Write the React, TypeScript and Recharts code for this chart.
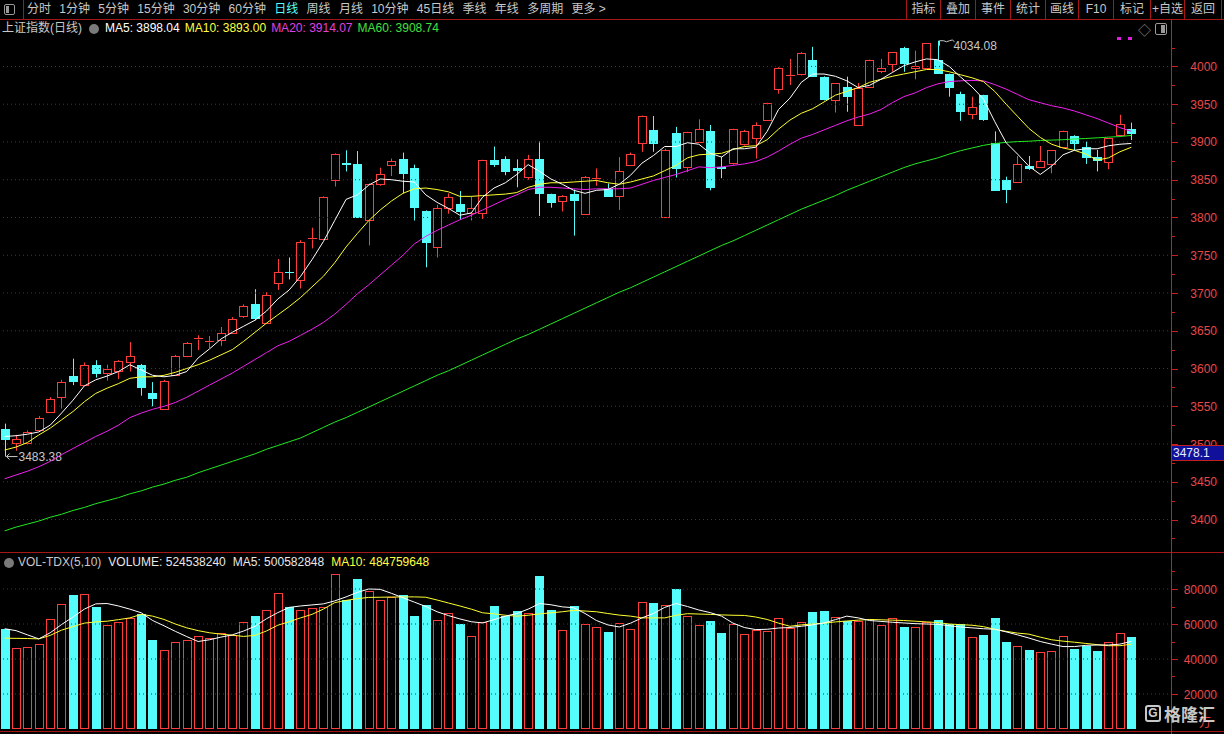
import React from "react";
import { ComposedChart, Bar, Line, XAxis, YAxis, ReferenceLine } from "recharts";

// 上证指数 日线, last 100 sessions (prices in points, volume in 万股)
const open = [
  3520, 3502, 3501, 3519, 3543, 3562, 3590, 3578, 3604, 3594,
  3597, 3608, 3605, 3568, 3547, 3591, 3617, 3638.6, 3635, 3638,
  3647, 3669, 3686, 3660, 3713, 3728.2, 3717, 3771, 3772, 3850,
  3871.7, 3871, 3797, 3844, 3869.5, 3877, 3865, 3809, 3761, 3812,
  3818, 3805.5, 3805.5, 3876, 3877, 3866, 3853, 3877, 3831, 3822,
  3831, 3805, 3851.4, 3838, 3828, 3869.5, 3898, 3916, 3800, 3911.5,
  3867, 3900, 3914, 3866.4, 3871.7, 3897, 3905, 3929, 3970, 3987.4,
  3990, 4008.6, 3986, 3955, 3973, 3923, 3973, 3994.5, 4003, 4024.5,
  3997.5, 3997.5, 4008.6, 3990, 3963.5, 3937, 3962, 3898, 3849.6, 3847.4,
  3868.6, 3867.3, 3870.8, 3893, 3908.4, 3894, 3880.5, 3873, 3909, 3917,
];
const high = [
  3527, 3512, 3518, 3537, 3562, 3585, 3613, 3608, 3611, 3605,
  3611, 3635, 3606, 3582, 3585, 3618, 3635, 3644, 3643, 3655,
  3668, 3685, 3705, 3701, 3745, 3747, 3770, 3786.5, 3828, 3885,
  3889, 3888, 3845, 3866, 3878, 3886, 3870, 3809.5, 3817, 3832,
  3835, 3828, 3876.5, 3894, 3881, 3877, 3883, 3901, 3831.5, 3829.5,
  3837, 3855, 3865, 3845, 3880, 3886, 3935, 3934.4, 3891, 3920,
  3913.5, 3930, 3922.5, 3880.5, 3917.5, 3916, 3926, 3952, 3999, 4010,
  4019, 4026, 3987, 3978, 3986.5, 3978, 4009, 4010, 4019, 4026,
  4021, 4031, 4034.08, 3990.5, 3966.6, 3960, 3962.5, 3914, 3854, 3881.4,
  3881.4, 3894.7, 3889.5, 3915, 3909, 3900.4, 3889.4, 3905, 3936, 3925.6,
];
const low = [
  3483.38, 3491, 3499, 3518, 3541, 3547, 3578, 3577, 3588, 3584,
  3586, 3596, 3564, 3550, 3546, 3590, 3615, 3624.5, 3627, 3630,
  3646, 3667, 3664, 3659, 3704, 3718, 3706, 3759, 3771, 3841,
  3861, 3800, 3763, 3842, 3855, 3832, 3796, 3734, 3747, 3805,
  3797, 3796, 3798, 3867, 3856, 3840, 3850, 3802, 3813, 3808,
  3776, 3804.5, 3842, 3828.5, 3810, 3869, 3887, 3887, 3799.5, 3853,
  3860, 3899.5, 3836, 3852, 3870, 3895, 3878, 3928, 3964, 3975.5,
  3988, 3987, 3955, 3939, 3940, 3922.5, 3972, 3991, 3993, 3993,
  3983, 3997, 3991, 3960, 3928, 3930, 3928, 3835.5, 3819, 3846,
  3863, 3866.4, 3858.5, 3892, 3889.4, 3871, 3861, 3864, 3908.5, 3902.6,
];
const close = [
  3506, 3507, 3516, 3535, 3560, 3582, 3584, 3605, 3594, 3599,
  3610, 3616, 3575, 3561, 3583, 3617, 3634, 3640.8, 3636.4, 3647,
  3666, 3683, 3667, 3697, 3728, 3727.3, 3767, 3772.4, 3827, 3884,
  3870.4, 3801, 3844, 3858, 3875, 3859, 3814, 3767, 3813, 3827,
  3809, 3812, 3876, 3871, 3862, 3863, 3877, 3833, 3821, 3829,
  3823, 3854, 3852.7, 3829, 3862, 3884, 3934.4, 3898, 3890, 3866,
  3913, 3917, 3841, 3865.1, 3917, 3914, 3922.5, 3951, 3997.5, 3988.7,
  4017.4, 3988, 3957, 3977.7, 3961, 3971, 4008.6, 3997.5, 4018.7, 4004,
  4000.6, 4030.6, 3992, 3973, 3941.5, 3946.8, 3931, 3836.4, 3837.3, 3870.8,
  3866, 3875.2, 3889.4, 3914.5, 3899, 3880, 3876, 3904.8, 3924, 3911.4,
];
const ma5 = [
  3510, 3511, 3513, 3516, 3525, 3541, 3558, 3577, 3585, 3590,
  3596, 3605, 3598, 3591, 3589, 3591, 3596, 3614, 3626, 3639,
  3648, 3656, 3664, 3676, 3692, 3704, 3722, 3744, 3768, 3796,
  3824, 3830, 3843, 3851, 3850, 3848, 3847, 3830, 3820, 3812,
  3803, 3806, 3827, 3839, 3846, 3857, 3870, 3861, 3851, 3844,
  3836, 3832, 3836, 3837, 3844, 3856, 3872, 3882, 3894, 3894,
  3899, 3897, 3885, 3880, 3891, 3891, 3893, 3914, 3943, 3958,
  3979, 3990, 3990, 3987, 3981, 3972, 3975, 3983, 3992, 4001,
  4006, 4010, 4009, 4000, 3986, 3973, 3957, 3927, 3899, 3884,
  3868, 3857, 3868, 3883, 3889, 3891, 3891, 3895, 3897, 3898.04,
];
const ma10 = [
  3492, 3496, 3502, 3512, 3521, 3532, 3543, 3556, 3567, 3574,
  3580, 3587, 3589, 3589, 3591, 3595, 3600, 3605, 3611, 3618,
  3625, 3636, 3648, 3660, 3671, 3682, 3694, 3708, 3722, 3740,
  3761, 3779, 3796, 3810, 3822, 3832, 3838, 3839, 3837, 3834,
  3828, 3828, 3829, 3830, 3831, 3833, 3840, 3844, 3846, 3846,
  3847, 3848, 3849, 3846, 3844, 3847, 3851, 3855, 3862, 3869,
  3879, 3883, 3884, 3885, 3890, 3894, 3895, 3903, 3917, 3929,
  3938, 3944, 3953, 3962, 3967, 3972, 3979, 3983, 3987, 3990,
  3993, 3996, 3996, 3993, 3989, 3985, 3980, 3967, 3950, 3934,
  3918, 3906, 3897, 3892, 3889, 3884, 3876, 3879, 3887, 3893.0,
];
const ma20 = [
  3454, 3459, 3464, 3470, 3477, 3486, 3494, 3502, 3510, 3517,
  3525, 3535, 3541, 3546, 3550, 3555, 3562, 3570, 3578, 3586,
  3594, 3603, 3612, 3621, 3630, 3636, 3644, 3652, 3661, 3672,
  3685, 3699, 3711, 3724, 3737, 3750, 3765, 3775, 3783, 3790,
  3797, 3803, 3810, 3817, 3824, 3830, 3837, 3840, 3840, 3839,
  3838, 3837, 3838, 3838, 3838, 3839, 3844, 3849, 3853, 3857,
  3862, 3867, 3866, 3867, 3869, 3871, 3874, 3880, 3888, 3897,
  3905, 3910, 3916, 3922, 3928, 3933, 3937, 3943, 3952, 3960,
  3965, 3972, 3977, 3980, 3981, 3981.5, 3981, 3976, 3970, 3963,
  3956, 3952, 3948, 3945, 3941, 3936, 3931, 3925, 3919, 3914.07,
];
const ma60 = [
  3385, 3390, 3394, 3398, 3403, 3407, 3412, 3416, 3421, 3425,
  3429, 3434, 3438, 3443, 3447, 3452, 3456, 3462, 3467, 3472,
  3477, 3482, 3487, 3493, 3498, 3503, 3508, 3515, 3522, 3529,
  3535, 3542, 3549, 3556, 3563, 3570, 3577, 3584, 3591, 3597,
  3604, 3611, 3618, 3625, 3632, 3639, 3645, 3652, 3659, 3666,
  3673, 3680, 3687, 3694, 3701, 3707, 3714, 3721, 3728, 3735,
  3742, 3749, 3756, 3763, 3769, 3776, 3783, 3790, 3797, 3804,
  3811, 3817, 3823, 3829, 3836, 3842, 3848, 3854, 3860, 3866,
  3871, 3875, 3879, 3884, 3888.5, 3892, 3895.5, 3898, 3899.5, 3900.5,
  3901, 3902, 3902.5, 3903, 3904, 3904.6, 3905.5, 3906.4, 3907.2, 3908.74,
];
const volume = [
  57300, 46300, 46900, 48600, 63100, 71500, 76700, 77300, 69700, 59300,
  61000, 63700, 65700, 50600, 45100, 50000, 50900, 53300, 52100, 55000,
  53800, 61000, 64500, 67800, 77700, 69700, 67800, 69200, 69700, 88700,
  73600, 85800, 78600, 73600, 75200, 76700, 64500, 70900, 62400, 66200,
  59900, 53100, 61200, 70300, 64500, 67400, 66200, 87700, 68000, 56800,
  70300, 59900, 58500, 55200, 60400, 57000, 72400, 72100, 70700, 80200,
  64300, 59300, 61600, 54600, 60000, 54000, 56400, 56200, 63700, 57900,
  61000, 66800, 67400, 63900, 61600, 61600, 63000, 59300, 63300, 58100,
  58500, 61200, 62200, 59900, 59900, 52700, 53500, 63300, 50000, 47500,
  45300, 44000, 44700, 53300, 45500, 47600, 44400, 49800, 54600, 52454,
];
const volMa5 = [
  57300, 56200, 53800, 51500, 55000, 59700, 64000, 68500, 71500, 71700,
  70300, 68500, 66400, 62000, 59000, 55800, 52800, 50000, 51000, 52500,
  53800, 56000, 58700, 63000, 66500, 69500, 70300, 70900, 71500, 73200,
  75500, 78100, 80000, 79800, 77500, 75000, 72500, 70000, 67000, 64800,
  62900, 61300, 60600, 62500, 64500, 66000, 68500, 71700, 71000, 69800,
  69300, 66000, 62000, 59500, 58300, 60500, 63500, 66000, 69500, 71700,
  70000, 68000, 66500, 64500, 60500, 58000, 56800, 57000, 57700, 58000,
  58700, 59500, 60600, 62500, 64500, 63500, 62000, 61500, 61000, 60600,
  60200, 60000, 59800, 59000, 58300, 57800, 57300, 57000, 55500, 53800,
  52000, 50000, 48500, 47100, 47100, 47800, 48000, 48000, 48500, 50058,
];
const volMa10 = [
  51900, 51800, 51700, 51500, 53500, 56500, 58500, 60500, 61200, 61600,
  62500, 63500, 65500, 64500, 62600, 60000, 57800, 56200, 55000, 54200,
  53600, 52900, 53500, 56000, 59300, 61300, 63500, 65500, 68500, 72200,
  73500, 74500, 75200, 75300, 75400, 75500, 75500, 75300, 73700, 72000,
  70300, 68500, 66400, 65800, 65000, 64500, 65000, 65800, 66400, 67000,
  67800, 67400, 67000, 66000, 65100, 64500, 63500, 63500, 63500, 65000,
  65900, 65700, 65500, 65200, 65000, 64900, 64000, 62600, 60500, 58700,
  59500, 60000, 60500, 61200, 61700, 62200, 62600, 62400, 62200, 62000,
  61600, 61200, 60800, 60000, 59600, 59300, 58500, 57000, 55800, 54800,
  54200, 52500, 51000, 50200, 49600, 48900, 48200, 47600, 47600, 48476,
];

const priceTicks = [
  3375, 3400, 3425, 3450, 3475, 3500, 3525, 3550, 3575, 3600, 3625, 3650, 3675, 3700,
  3725, 3750, 3775, 3800, 3825, 3850, 3875, 3900, 3925, 3950, 3975, 4000, 4025,
];
const priceGrid = [3400, 3450, 3500, 3550, 3600, 3650, 3700, 3750, 3800, 3850, 3900, 3950, 4000];
const volTicks = [10000, 20000, 30000, 40000, 50000, 60000, 70000, 80000, 90000];
const volGrid = [20000, 40000, 60000, 80000];

const periods = ["分时", "1分钟", "5分钟", "15分钟", "30分钟", "60分钟", "日线", "周线", "月线", "10分钟", "45日线", "季线", "年线", "多周期", "更多 >"];
const tools = ["指标", "叠加", "事件", "统计", "画线", "F10", "标记", "+自选", "返回"];
const toolEdges = [906, 940, 975, 1010, 1045, 1078, 1113, 1150, 1184, 1221];

const FONT = '"Liberation Sans", Arial, "Noto Sans CJK SC", sans-serif';
const UP = "#ff3c3c";
const DOWN = "#54fcfc";
const FRAME = "#a51616";
const GRID = "#8c1818";
const AXIS = "#c42020";
const LABEL = "#e84848";
const TEXT = "#c8c8c8";

const Candle = (props: any) => {
  const { x, y, width, height, payload } = props;
  if (!payload || !isFinite(y) || !isFinite(height)) return null;
  const { o, h, l, c } = payload;
  const py = (v: number) => y + ((h - v) / (h - l)) * height;
  const cx = Math.round(x + width / 2) + 0.5;
  const yH = py(h);
  const yL = py(l);
  const t = Math.round(py(Math.max(o, c))) + 0.5;
  const b = Math.round(py(Math.min(o, c))) + 0.5;
  const rising = c >= o;
  let body;
  if (rising) {
    body = (
      <g>
        <line x1={cx} x2={cx} y1={yH} y2={t} stroke={UP} />
        <line x1={cx} x2={cx} y1={b} y2={yL} stroke={UP} />
        {b - t < 1.5 ? (
          <line x1={cx - 4.5} x2={cx + 4.5} y1={t} y2={t} stroke={UP} />
        ) : (
          <rect x={cx - 4} y={t} width={8} height={b - t} fill="#000" stroke={UP} />
        )}
      </g>
    );
  } else {
    body = (
      <g>
        <line x1={cx} x2={cx} y1={yH} y2={yL} stroke={DOWN} />
        <rect x={cx - 4.5} y={t - 0.5} width={9} height={Math.max(b - t + 1, 1)} fill={DOWN} />
      </g>
    );
  }
  return (
    <g>
      {body}
      {payload.trough && (
        <g>
          <path d={`M${cx + 1},${yL} l11,0 M${cx + 1},${yL} l3,-3 M${cx + 1},${yL} l3,3`} stroke={TEXT} fill="none" />
          <text x={cx + 13} y={yL + 4.5} fill={TEXT} fontSize={12} fontFamily={FONT}>{l.toFixed(2)}</text>
        </g>
      )}
      {payload.peak && (
        <g>
          <path d={`M${cx + 1},${yH} l0,5 M${cx + 1},${yH} l4,0 q3,2 6,0 t5,1`} stroke={TEXT} fill="none" />
          <text x={cx + 15} y={yH + 9} fill={TEXT} fontSize={12} fontFamily={FONT}>{h.toFixed(2)}</text>
        </g>
      )}
    </g>
  );
};

const VolBar = (props: any) => {
  const { x, y, width, height, payload } = props;
  if (!payload || !isFinite(y)) return null;
  const cx = Math.round(x + width / 2) + 0.5;
  const top = Math.round(y) + 0.5;
  const bot = Math.round(y + height) - 0.5;
  if (payload.c >= payload.o) {
    return <rect x={cx - 4} y={top} width={8} height={bot - top} fill="#000" stroke={UP} />;
  }
  return <rect x={cx - 4.5} y={top - 0.5} width={9} height={bot - top + 1} fill={DOWN} />;
};

const AxisTick = (props: any) => {
  const { x, y, payload, step } = props;
  const v = payload.value;
  const major = v % step === 0;
  const yy = Math.round(y) + 0.5;
  return (
    <g>
      <line x1={x} x2={x + (major ? 6 : 3)} y1={yy} y2={yy} stroke={AXIS} />
      {major && (
        <text x={x + 45} y={y + 4.5} textAnchor="end" fill={LABEL} fontSize={12} fontFamily={FONT}>
          {v}
        </text>
      )}
    </g>
  );
};

const abs = (left: number, top: number, extra: React.CSSProperties = {}): React.CSSProperties => ({
  position: "absolute",
  left,
  top,
  ...extra,
});

export default function App() {
  const hiIdx = high.indexOf(Math.max(...high));
  const loIdx = low.indexOf(Math.min(...low));
  const rows = close.map((c, i) => ({
    d: i + 1,
    o: open[i],
    h: high[i],
    l: low[i],
    c,
    hl: [low[i], high[i]],
    ma5: ma5[i],
    ma10: ma10[i],
    ma20: ma20[i],
    ma60: ma60[i],
    vol: volume[i],
    vma5: volMa5[i],
    vma10: volMa10[i],
    peak: i === hiIdx,
    trough: i === loIdx,
  }));

  return (
    <div style={{ position: "relative", width: 1224, height: 734, background: "#000", overflow: "hidden", fontFamily: FONT, fontSize: 12, color: TEXT }}>
      <style>{"body{margin:0;background:#000}"}</style>

      {/* price panel */}
      <div style={abs(-1, 0)}>
        <ComposedChart width={1225} height={552} data={rows} margin={{ top: 38, right: 0, bottom: 4, left: 0 }}>
          <XAxis dataKey="d" hide padding={{ left: 0, right: 35 }} />
          <YAxis
            orientation="right"
            width={52}
            domain={[3362.3, 4037.7]}
            allowDataOverflow
            ticks={priceTicks}
            interval={0}
            tickSize={0}
            tickMargin={0}
            axisLine={false}
            tickLine={false}
            tick={(p: any) => <AxisTick {...p} step={50} />}
          />
          {priceGrid.map((v) => (
            <ReferenceLine key={v} y={v} stroke={GRID} strokeDasharray="1 3" />
          ))}
          <Bar dataKey="hl" barSize={9} isAnimationActive={false} shape={(p: any) => <Candle {...p} />} />
          <Line dataKey="ma60" stroke="#22e822" strokeWidth={1} dot={false} activeDot={false} isAnimationActive={false} />
          <Line dataKey="ma20" stroke="#f020f0" strokeWidth={1} dot={false} activeDot={false} isAnimationActive={false} />
          <Line dataKey="ma10" stroke="#ffff30" strokeWidth={1} dot={false} activeDot={false} isAnimationActive={false} />
          <Line dataKey="ma5" stroke="#ffffff" strokeWidth={1} dot={false} activeDot={false} isAnimationActive={false} />
        </ComposedChart>
      </div>

      {/* volume panel */}
      <div style={abs(-1, 552)}>
        <ComposedChart width={1225} height={182} data={rows} margin={{ top: 2, right: 0, bottom: 5, left: 0 }}>
          <XAxis dataKey="d" hide padding={{ left: 0, right: 35 }} />
          <YAxis
            orientation="right"
            width={52}
            domain={[0, 100000]}
            allowDataOverflow
            ticks={volTicks}
            interval={0}
            tickSize={0}
            tickMargin={0}
            axisLine={false}
            tickLine={false}
            tick={(p: any) => <AxisTick {...p} step={20000} />}
          />
          {volGrid.map((v) => (
            <ReferenceLine key={v} y={v} stroke={GRID} strokeDasharray="1 3" />
          ))}
          <Bar dataKey="vol" barSize={9} isAnimationActive={false} shape={(p: any) => <VolBar {...p} />} />
          <Line dataKey="vma10" stroke="#ffff30" strokeWidth={1} dot={false} activeDot={false} isAnimationActive={false} />
          <Line dataKey="vma5" stroke="#ffffff" strokeWidth={1} dot={false} activeDot={false} isAnimationActive={false} />
        </ComposedChart>
      </div>

      {/* frame lines */}
      <div style={abs(0, 19, { width: 1224, height: 1, background: FRAME })} />
      <div style={abs(0, 552, { width: 1224, height: 1, background: FRAME })} />
      <div style={abs(0, 731, { width: 1224, height: 1, background: FRAME })} />
      <div style={abs(1171, 19, { width: 1, height: 715, background: AXIS })} />

      {/* toolbar */}
      <div style={abs(4, 4, { width: 9, height: 9, border: "1px solid #9a9a9a", borderRadius: 2 })}>
        <div style={abs(1, 1, { width: 3, height: 7, background: "#9a9a9a" })} />
      </div>
      <div style={abs(23, 0, { width: 1, height: 19, background: FRAME })} />
      <div style={abs(27, 1, { display: "flex", gap: 8.3, lineHeight: "17px", whiteSpace: "nowrap" })}>
        {periods.map((p) => (
          <span key={p} style={{ color: p === "日线" ? "#5ff" : TEXT }}>{p}</span>
        ))}
      </div>
      {tools.map((t, i) => (
        <div
          key={t}
          style={abs(toolEdges[i], 0, {
            width: toolEdges[i + 1] - toolEdges[i],
            height: 19,
            borderLeft: `1px solid ${FRAME}`,
            boxSizing: "border-box",
            textAlign: "center",
            lineHeight: "18px",
            color: TEXT,
          })}
        >
          {t}
        </div>
      ))}
      <div style={abs(1221, 0, { width: 1, height: 19, background: FRAME })} />

      {/* price title row */}
      <div style={abs(2, 21, { display: "flex", alignItems: "center", gap: 5, lineHeight: "15px", whiteSpace: "nowrap" })}>
        <span style={{ color: TEXT }}>上证指数(日线)</span>
        <span style={{ width: 10, height: 10, borderRadius: 5, background: "#7a7a7a", display: "inline-block", marginLeft: 2, marginRight: 1 }} />
        <span style={{ color: "#ffffff" }}>MA5: 3898.04</span>
        <span style={{ color: "#ffff40" }}>MA10: 3893.00</span>
        <span style={{ color: "#e040e0" }}>MA20: 3914.07</span>
        <span style={{ color: "#40e040" }}>MA60: 3908.74</span>
      </div>
      <div style={abs(1138, 20, { color: "#8a8a8a", fontSize: 13 })}>◇</div>
      <div style={abs(1155, 23, { width: 10, height: 10, border: "1px solid #9a9a9a", borderRadius: 2 })}>
        <div style={abs(5, 1, { width: 4, height: 8, background: "#9a9a9a" })} />
      </div>
      <div style={abs(1117, 37, { width: 4, height: 3, background: "#e020e0" })} />
      <div style={abs(1128, 37, { width: 4, height: 3, background: "#e020e0" })} />

      {/* current value box */}
      <div
        style={abs(1172, 445, {
          width: 52,
          height: 16,
          boxSizing: "border-box",
          background: "#10109a",
          borderTop: "1px solid #c02020",
          borderBottom: "1px solid #c02020",
          color: "#e8ecff",
          lineHeight: "14px",
          paddingLeft: 1,
        })}
      >
        3478.1
      </div>

      {/* volume title row */}
      <div style={abs(4, 555, { display: "flex", alignItems: "center", gap: 7, lineHeight: "15px", whiteSpace: "nowrap" })}>
        <span style={{ width: 10, height: 10, borderRadius: 5, background: "#7a7a7a", display: "inline-block", marginRight: -3 }} />
        <span style={{ color: TEXT }}>VOL-TDX(5,10)</span>
        <span style={{ color: "#e8e8e8" }}>VOLUME: 524538240</span>
        <span style={{ color: "#e8e8e8" }}>MA5: 500582848</span>
        <span style={{ color: "#ffff40" }}>MA10: 484759648</span>
      </div>

      {/* unit + watermark */}
      <div style={abs(1199, 713, { color: LABEL })}>万</div>
      <div style={abs(1145, 705, { width: 16, height: 17, border: "2px solid rgba(235,235,235,0.85)", borderRadius: 3, boxSizing: "border-box", color: "rgba(235,235,235,0.9)", fontWeight: 700, fontSize: 12, lineHeight: "13px", textAlign: "center" })}>
        G
      </div>
      <div style={abs(1164, 703, { color: "rgba(235,235,235,0.85)", fontSize: 17, fontWeight: 700, fontFamily: '"Noto Sans CJK SC", sans-serif', lineHeight: "21px" })}>
        格隆汇
      </div>
    </div>
  );
}
